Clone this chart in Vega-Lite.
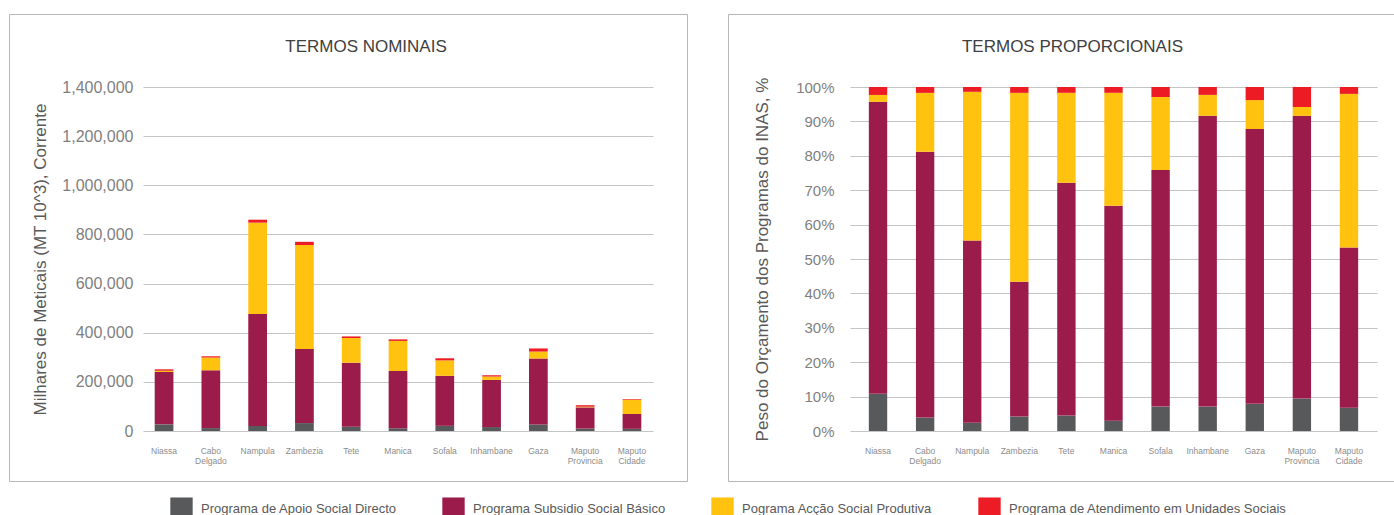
{
  "$schema": "https://vega.github.io/schema/vega-lite/v6.json",
  "padding": {"left": 8, "top": 13, "right": 0, "bottom": 0},
  "background": "white",
  "data": {"values": [
    {"provincia": "Niassa", "programa": "Programa de Apoio Social Directo", "valor": 27100},
    {"provincia": "Niassa", "programa": "Programa Subsidio Social Básico", "valor": 213100},
    {"provincia": "Niassa", "programa": "Pograma Acção Social Produtiva", "valor": 5000},
    {"provincia": "Niassa", "programa": "Programa de Atendimento em Unidades Sociais", "valor": 5800},
    {"provincia": "Cabo Delgado", "programa": "Programa de Apoio Social Directo", "valor": 11900},
    {"provincia": "Cabo Delgado", "programa": "Programa Subsidio Social Básico", "valor": 235000},
    {"provincia": "Cabo Delgado", "programa": "Pograma Acção Social Produtiva", "valor": 52000},
    {"provincia": "Cabo Delgado", "programa": "Programa de Atendimento em Unidades Sociais", "valor": 5200},
    {"provincia": "Nampula", "programa": "Programa de Apoio Social Directo", "valor": 20600},
    {"provincia": "Nampula", "programa": "Programa Subsidio Social Básico", "valor": 455800},
    {"provincia": "Nampula", "programa": "Pograma Acção Social Produtiva", "valor": 371500},
    {"provincia": "Nampula", "programa": "Programa de Atendimento em Unidades Sociais", "valor": 12000},
    {"provincia": "Zambezia", "programa": "Programa de Apoio Social Directo", "valor": 32300},
    {"provincia": "Zambezia", "programa": "Programa Subsidio Social Básico", "valor": 301800},
    {"provincia": "Zambezia", "programa": "Pograma Acção Social Produtiva", "valor": 422700},
    {"provincia": "Zambezia", "programa": "Programa de Atendimento em Unidades Sociais", "valor": 13100},
    {"provincia": "Tete", "programa": "Programa de Apoio Social Directo", "valor": 17300},
    {"provincia": "Tete", "programa": "Programa Subsidio Social Básico", "valor": 260600},
    {"provincia": "Tete", "programa": "Pograma Acção Social Produtiva", "valor": 100500},
    {"provincia": "Tete", "programa": "Programa de Atendimento em Unidades Sociais", "valor": 6500},
    {"provincia": "Manica", "programa": "Programa de Apoio Social Directo", "valor": 11200},
    {"provincia": "Manica", "programa": "Programa Subsidio Social Básico", "valor": 233100},
    {"provincia": "Manica", "programa": "Pograma Acção Social Produtiva", "valor": 122300},
    {"provincia": "Manica", "programa": "Programa de Atendimento em Unidades Sociais", "valor": 6300},
    {"provincia": "Sofala", "programa": "Programa de Apoio Social Directo", "valor": 21000},
    {"provincia": "Sofala", "programa": "Programa Subsidio Social Básico", "valor": 203600},
    {"provincia": "Sofala", "programa": "Pograma Acção Social Produtiva", "valor": 62800},
    {"provincia": "Sofala", "programa": "Programa de Atendimento em Unidades Sociais", "valor": 8600},
    {"provincia": "Inhambane", "programa": "Programa de Apoio Social Directo", "valor": 16100},
    {"provincia": "Inhambane", "programa": "Programa Subsidio Social Básico", "valor": 191800},
    {"provincia": "Inhambane", "programa": "Pograma Acção Social Produtiva", "valor": 13800},
    {"provincia": "Inhambane", "programa": "Programa de Atendimento em Unidades Sociais", "valor": 5200},
    {"provincia": "Gaza", "programa": "Programa de Apoio Social Directo", "valor": 26500},
    {"provincia": "Gaza", "programa": "Programa Subsidio Social Básico", "valor": 268500},
    {"provincia": "Gaza", "programa": "Pograma Acção Social Produtiva", "valor": 28200},
    {"provincia": "Gaza", "programa": "Programa de Atendimento em Unidades Sociais", "valor": 12800},
    {"provincia": "Maputo Provincia", "programa": "Programa de Apoio Social Directo", "valor": 9900},
    {"provincia": "Maputo Provincia", "programa": "Programa Subsidio Social Básico", "valor": 86300},
    {"provincia": "Maputo Provincia", "programa": "Pograma Acção Social Produtiva", "valor": 2700},
    {"provincia": "Maputo Provincia", "programa": "Programa de Atendimento em Unidades Sociais", "valor": 6100},
    {"provincia": "Maputo Cidade", "programa": "Programa de Apoio Social Directo", "valor": 8800},
    {"provincia": "Maputo Cidade", "programa": "Programa Subsidio Social Básico", "valor": 60500},
    {"provincia": "Maputo Cidade", "programa": "Pograma Acção Social Produtiva", "valor": 58100},
    {"provincia": "Maputo Cidade", "programa": "Programa de Atendimento em Unidades Sociais", "valor": 2600}
  ]},
  "transform": [
    {"calculate": "indexof(['Programa de Apoio Social Directo', 'Programa Subsidio Social Básico', 'Pograma Acção Social Produtiva', 'Programa de Atendimento em Unidades Sociais'], datum.programa)", "as": "ordem"}
  ],
  "spacing": 39,
  "hconcat": [
    {
      "width": 678,
      "height": 467,
      "title": {"text": "TERMOS NOMINAIS", "anchor": "middle", "frame": "group", "baseline": "middle", "offset": -50, "dx": 18},
      "mark": {"type": "bar"},
      "encoding": {
        "x": {
          "field": "provincia", "type": "nominal", "sort": null,
          "scale": {"range": [134, 644], "paddingInner": 0.6, "paddingOuter": 0.25},
          "axis": {"title": null, "orient": "bottom", "offset": -50, "labelAngle": 0, "ticks": false, "domain": false, "grid": false,
                   "labelExpr": "split(datum.label, ' ')", "labelFontSize": 8.5, "labelColor": "#8c8c8c", "labelBaseline": "middle", "labelPadding": 19, "labelLineHeight": 10}
        },
        "y": {
          "aggregate": "sum", "field": "valor", "type": "quantitative", "stack": "zero",
          "scale": {"domain": [0, 1400000], "range": [417, 73], "nice": false, "zero": true},
          "axis": {"title": "Milhares de Meticais (MT 10^3), Corrente", "orient": "left", "offset": -134, "values": [0, 200000, 400000, 600000, 800000, 1000000, 1200000, 1400000],
                   "format": ",d", "ticks": false, "domain": false, "grid": true, "labelPadding": 10, "titlePadding": 12, "labelFontSize": 16}
        },
        "order": {"field": "ordem", "type": "quantitative", "sort": "ascending"},
        "color": {
          "field": "programa", "type": "nominal",
          "sort": ["Programa de Apoio Social Directo", "Programa Subsidio Social Básico", "Pograma Acção Social Produtiva", "Programa de Atendimento em Unidades Sociais"],
          "scale": {"domain": ["Programa de Apoio Social Directo", "Programa Subsidio Social Básico", "Pograma Acção Social Produtiva", "Programa de Atendimento em Unidades Sociais"],
                    "range": ["#58595b", "#9b1b4b", "#ffc20e", "#ed1c24"]},
          "legend": {"orient": "none", "legendX": 161, "legendY": 483, "direction": "horizontal", "title": null}
        }
      }
    },
    {
      "width": 669,
      "height": 467,
      "title": {"text": "TERMOS PROPORCIONAIS", "anchor": "middle", "frame": "group", "baseline": "middle", "offset": -50, "dx": 10},
      "mark": {"type": "bar"},
      "encoding": {
        "x": {
          "field": "provincia", "type": "nominal", "sort": null,
          "scale": {"range": [122, 649], "paddingInner": 0.61, "paddingOuter": 0.4},
          "axis": {"title": null, "orient": "bottom", "offset": -50, "labelAngle": 0, "ticks": false, "domain": false, "grid": false,
                   "labelExpr": "split(datum.label, ' ')", "labelFontSize": 8.5, "labelColor": "#8c8c8c", "labelBaseline": "middle", "labelPadding": 19, "labelLineHeight": 10}
        },
        "y": {
          "aggregate": "sum", "field": "valor", "type": "quantitative", "stack": "normalize",
          "scale": {"domain": [0, 1], "range": [417, 73], "nice": false},
          "axis": {"title": "Peso do Orçamento dos Programas do INAS, %", "orient": "left", "offset": -122, "values": [0, 0.1, 0.2, 0.3, 0.4, 0.5, 0.6, 0.7, 0.8, 0.9, 1],
                   "format": ".0%", "ticks": false, "domain": false, "grid": true, "labelPadding": 16, "titlePadding": 24}
        },
        "order": {"field": "ordem", "type": "quantitative", "sort": "ascending"},
        "color": {
          "field": "programa", "type": "nominal",
          "sort": ["Programa de Apoio Social Directo", "Programa Subsidio Social Básico", "Pograma Acção Social Produtiva", "Programa de Atendimento em Unidades Sociais"]
        }
      }
    }
  ],
  "resolve": {"scale": {"color": "shared"}},
  "config": {
    "font": "Liberation Sans",
    "view": {"stroke": "#b8b8b8", "strokeWidth": 1},
    "title": {"fontSize": 17, "fontWeight": "normal", "color": "#404040", "font": "Liberation Sans"},
    "axis": {"labelFontSize": 15, "labelColor": "#7f7f7f", "titleFontSize": 17, "titleFontWeight": "normal", "titleColor": "#595959", "gridColor": "#c4c4c4", "gridWidth": 1.2, "labelFont": "Liberation Sans", "titleFont": "Liberation Sans"},
    "legend": {"symbolType": "square", "symbolSize": 500, "symbolStrokeWidth": 0, "symbolOpacity": 1, "labelFontSize": 13, "labelColor": "#595959", "labelOffset": 8, "columnPadding": 45, "labelLimit": 400, "labelFont": "Liberation Sans"}
  }
}
